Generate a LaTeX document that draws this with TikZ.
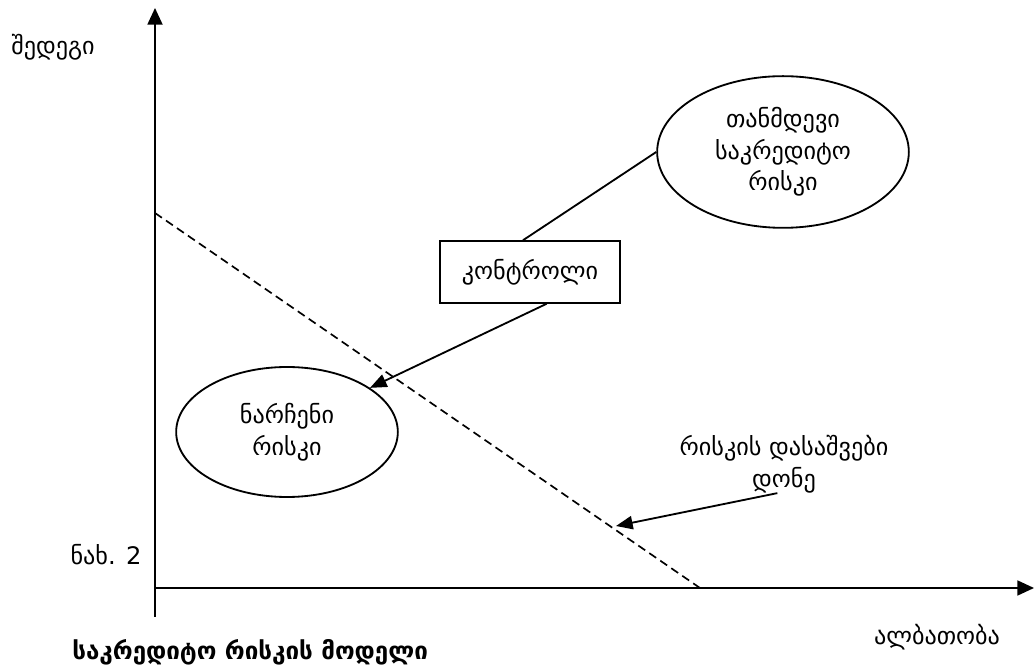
\documentclass[tikz,border=0pt]{standalone}
\usepackage{fontspec}
\setmainfont{DejaVu Sans}
\usetikzlibrary{arrows.meta,shapes.geometric,positioning}
\tikzset{
    risk/.style={
           ellipse,
           draw=black, line width=1.1pt,
           inner sep=0pt,
           align=center,
           },
}
\tikzset{
    ctrl/.style={
           rectangle,
           draw=black, line width=1.1pt,
           minimum width=108pt, minimum height=37pt,
           text centered,
           },
}
\tikzset{
    lbl/.style={
           inner sep=0pt,
           align=center,
           },
}
\tikzset{
    axis/.style={
           line width=1.1pt,
           -{Triangle[length=10pt,width=9pt]},
           },
}
\tikzset{
    conn/.style={
           line width=1.1pt,
           -{Triangle[length=10pt,width=8pt]},
           },
}

\begin{document}
\begin{tikzpicture}[x=0.6pt,y=-0.6pt,font=\fontsize{14.5}{19}\selectfont]
\useasboundingbox (0,0) rectangle (1034,669);
% axes
\coordinate (orig) at (155,588);
\coordinate (ytip) at (155,8);
\coordinate (ylow) at (155,617);
\coordinate (xtip) at (1034,588);
\draw[axis] (ylow) -- (ytip);
\draw[axis] (orig) -- (xtip);
% acceptable level
\coordinate (lvltop) at (155,213);
\coordinate (lvlend) at (700,588);
\coordinate (lvlmark) at (616,526);
\draw[line width=1pt,dash pattern=on 5pt off 3pt] (lvltop) -- (lvlend);
\node[risk,minimum width=151pt,minimum height=91pt](tand) at (783,152){თანმდევი\\საკრედიტო\\რისკი};
\node[ctrl](kont) at (530,272){კონტროლი};
\node[risk,minimum width=133pt,minimum height=78pt](narch) at (287,432){ნარჩენი\\რისკი};
\node[lbl](lvl) at (784,464){რისკის დასაშვები\\დონე};
\draw[line width=1.1pt] (tand.west) -- ([xshift=-4.2pt]kont.north);
\draw[conn] ([xshift=10pt]kont.south) -- (narch.28);
\draw[conn] ([xshift=-4pt]lvl.south) -- (lvlmark);
% labels
\node[lbl](yname) at (53,47){შედეგი};
\node[lbl](fig) at (106,555){ნახ. 2};
\node[lbl](xname) at (937,637){ალბათობა};
\node[lbl,anchor=west,font=\fontsize{14.5}{19}\selectfont\bfseries](title) at (72,652){საკრედიტო რისკის მოდელი};
\end{tikzpicture}
\end{document}
